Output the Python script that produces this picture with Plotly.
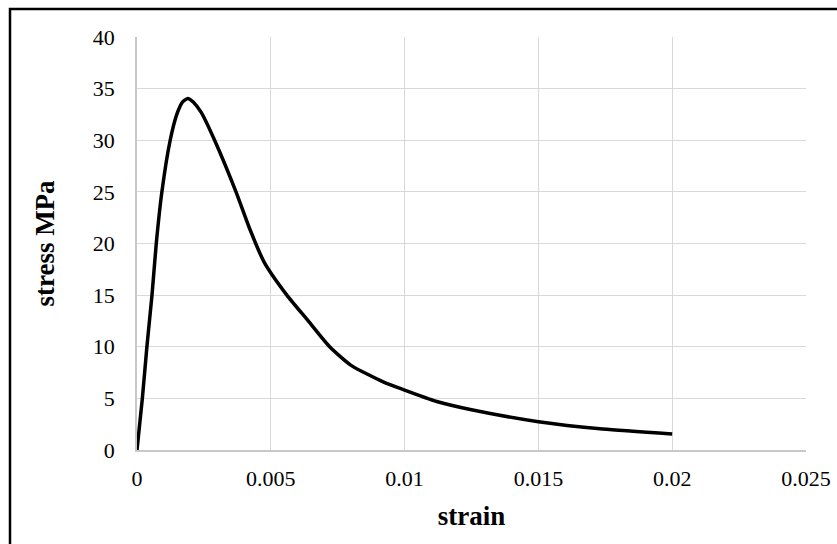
import plotly.graph_objects as go

strain = [0, 0.0002, 0.00037, 0.00056, 0.00072, 0.00093, 0.00124, 0.0015, 0.0017,
          0.0019, 0.0021, 0.0024, 0.0029, 0.0037, 0.0042, 0.00475,
          0.0056, 0.0064, 0.0072, 0.008, 0.0092, 0.00995, 0.0112, 0.0125, 0.015, 0.0174, 0.02]
stress = [0, 5, 10, 15, 20, 25, 30, 32.6, 33.7,
          34.05, 33.7, 32.7, 30, 25, 21.5, 18.2,
          15, 12.5, 10, 8.2, 6.6, 5.85, 4.7, 3.9, 2.74, 2.03, 1.55]

x_ticks = [0, 0.005, 0.01, 0.015, 0.02, 0.025]
x_tick_labels = ["0", "0.005", "0.01", "0.015", "0.02", "0.025"]
y_ticks = [0, 5, 10, 15, 20, 25, 30, 35, 40]

FONT = "Liberation Serif, Times New Roman, serif"

fig = go.Figure()
fig.add_trace(go.Scatter(
    x=strain, y=stress, mode="lines",
    line=dict(color="black", width=3.5, shape="spline", smoothing=0.6),
    showlegend=False, hoverinfo="skip",
))

fig.update_layout(
    width=837, height=544,
    margin=dict(l=137, r=31, t=37, b=94),
    paper_bgcolor="white", plot_bgcolor="white",
    font=dict(family=FONT, color="black", size=22),
    xaxis=dict(
        range=[0, 0.025], tickvals=x_ticks, ticktext=x_tick_labels,
        showgrid=True, gridcolor="#d9d9d9", gridwidth=1.3,
        showline=True, linecolor="#c8c8c8", linewidth=1.5,
        zeroline=False, ticks="", ticklabelstandoff=8, automargin=False,
        title=dict(text="<b>strain</b>", font=dict(family=FONT, size=27), standoff=16),
        fixedrange=True,
    ),
    yaxis=dict(
        range=[0, 40], tickvals=y_ticks,
        showgrid=True, gridcolor="#d9d9d9", gridwidth=1.3,
        showline=True, linecolor="#c8c8c8", linewidth=1.5,
        zeroline=False, ticks="", ticklabelstandoff=16, automargin=False,
        title=dict(text="<b>stress MPa</b>", font=dict(family=FONT, size=27), standoff=30),
        fixedrange=True,
    ),
    shapes=[dict(
        type="rect", xref="paper", yref="paper",
        x0=(10 - 137) / 669, x1=1.2, y0=-0.4, y1=(450 - 9) / 413,
        line=dict(color="black", width=2.5), fillcolor="rgba(0,0,0,0)", layer="above",
    )],
)

fig.write_html("out.html")
